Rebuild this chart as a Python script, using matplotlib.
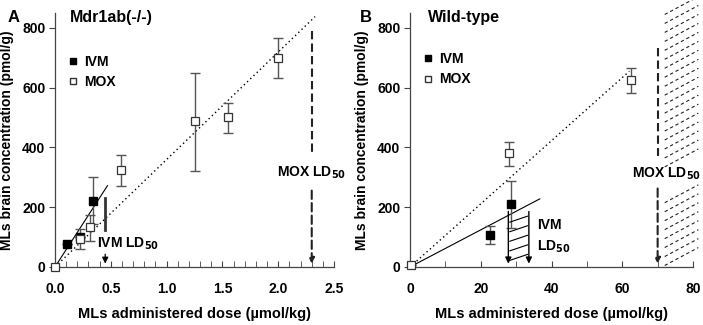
import matplotlib

matplotlib.use("Agg")
import matplotlib.pyplot as plt
import numpy as np
from matplotlib.lines import Line2D
from matplotlib.ticker import MultipleLocator, FormatStrFormatter

plt.rcParams["font.family"] = ["Liberation Sans", "DejaVu Sans"]
plt.rcParams["font.weight"] = "bold"
plt.rcParams["mathtext.default"] = "bf"

# ---- panel A: Mdr1ab(-/-) ----
a_ivm_x = [0.11, 0.22, 0.34]
a_ivm_y = [78, 99, 222]
a_ivm_err = [0, 0, 78]
a_mox_x = [0.0, 0.22, 0.31, 0.59, 1.25, 1.55, 2.0]
a_mox_y = [0, 94, 133, 325, 489, 503, 700]
a_mox_lo = [0, 35, 45, 53, 167, 53, 68]
a_mox_hi = [0, 34, 42, 50, 160, 47, 66]
a_ivm_fit = ([0, 0.47], [0, 272])
a_mox_fit = ([0, 2.33], [0, 838])
a_ivm_ld50 = 0.45
a_mox_ld50 = 2.3
a_ivm_range = (124, 230)

# ---- panel B: wild-type ----
b_ivm_x = [22.7, 28.5]
b_ivm_y = [106, 210]
b_ivm_err = [30, 78]
b_mox_x = [0.2, 28.0, 62.5]
b_mox_y = [6, 382, 625]
b_mox_lo = [0, 43, 42]
b_mox_hi = [0, 36, 40]
b_ivm_fit = ([0, 36.7], [0, 228])
b_mox_fit = ([0, 62.0], [0, 655])
b_ivm_ld50 = (27.8, 33.6)
b_mox_ld50 = 70

ERR = "#555555"
SPINE = "#444444"
FS = 10

fig = plt.figure(figsize=(7.03, 3.25), dpi=100)
axA = fig.add_axes([0.0782, 0.1785, 0.397, 0.7815])
axB = fig.add_axes([0.5832, 0.1785, 0.4026, 0.7815])

for ax in (axA, axB):
    for s in ("top", "right"):
        ax.spines[s].set_visible(False)
    for s in ("left", "bottom"):
        ax.spines[s].set_color(SPINE)
        ax.spines[s].set_linewidth(0.9)
    ax.set_ylim(0, 850)
    ax.yaxis.set_major_locator(MultipleLocator(200))
    ax.tick_params(axis="y", direction="out", length=4, color=SPINE,
                   labelsize=FS, pad=3)
    ax.tick_params(axis="x", which="both", direction="in", length=4,
                   color=SPINE, labelsize=FS, pad=11)
    ax.set_ylabel("MLs brain concentration (pmol/g)", fontsize=FS,
                  fontweight="bold", labelpad=6)
    ax.set_xlabel("MLs administered dose (µmol/kg)", fontsize=10.5,
                  fontweight="bold", labelpad=8)

# ---------- A ----------
ax = axA
ax.set_xlim(0, 2.5)
ax.xaxis.set_major_locator(MultipleLocator(0.5))
ax.xaxis.set_minor_locator(MultipleLocator(0.1))
ax.xaxis.set_major_formatter(FormatStrFormatter("%.1f"))

ax.plot(*a_ivm_fit, color="black", lw=0.8)
ax.plot(*a_mox_fit, color="black", lw=1.0, ls=(0, (1, 2.2)))
ax.errorbar(a_mox_x, a_mox_y, yerr=[a_mox_lo, a_mox_hi], fmt="none",
            ecolor=ERR, elinewidth=1.0, capsize=3.5, capthick=1.0)
ax.errorbar(a_ivm_x, a_ivm_y, yerr=a_ivm_err, fmt="none",
            ecolor=ERR, elinewidth=1.0, capsize=3.5, capthick=1.0)
ax.plot(a_ivm_x, a_ivm_y, "s", ms=6, mfc="black", mec="black", zorder=5,
        clip_on=False)
ax.plot(a_mox_x, a_mox_y, "s", ms=6, mfc="white", mec="#333333", mew=0.9,
        zorder=6, clip_on=False)
ax.plot([a_ivm_ld50, a_ivm_ld50], a_ivm_range, color="#333333", lw=2.0)

ax.annotate("", xy=(a_ivm_ld50, 2), xytext=(a_ivm_ld50, 52),
            arrowprops=dict(arrowstyle="-|>", color="black", lw=0.9,
                            mutation_scale=9))
ax.text(0.375, 77, "IVM LD$_{50}$", fontsize=FS, ha="left", va="center")
ax.plot([a_mox_ld50, a_mox_ld50], [790, 382], color="#222222", lw=1.5,
        ls=(0, (4, 2)))
ax.annotate("", xy=(a_mox_ld50, 2), xytext=(a_mox_ld50, 265),
            arrowprops=dict(arrowstyle="-|>", color="#222222", lw=1.5,
                            ls=(0, (4, 2)), mutation_scale=8))
ax.text(a_mox_ld50, 315, "MOX LD$_{50}$", fontsize=FS, ha="center",
        va="center")

# ---------- B ----------
ax = axB
ax.set_xlim(0, 80)
ax.xaxis.set_major_locator(MultipleLocator(20))
ax.xaxis.set_minor_locator(MultipleLocator(10))

ax.plot(*b_ivm_fit, color="black", lw=0.8)
ax.plot(*b_mox_fit, color="black", lw=1.0, ls=(0, (1, 2.2)))
ax.errorbar(b_mox_x, b_mox_y, yerr=[b_mox_lo, b_mox_hi], fmt="none",
            ecolor=ERR, elinewidth=1.0, capsize=3.5, capthick=1.0)
ax.errorbar(b_ivm_x, b_ivm_y, yerr=b_ivm_err, fmt="none",
            ecolor=ERR, elinewidth=1.0, capsize=3.5, capthick=1.0)
ax.plot(b_ivm_x, b_ivm_y, "s", ms=6, mfc="black", mec="black", zorder=5)
ax.plot(b_mox_x, b_mox_y, "s", ms=6, mfc="white", mec="#333333", mew=0.9,
        zorder=6, clip_on=False)

# IVM LD50 range: two arrows with hatching between
x0, x1 = b_ivm_ld50
for xv in b_ivm_ld50:
    ax.annotate("", xy=(xv, 2), xytext=(xv, 195),
                arrowprops=dict(arrowstyle="-|>", color="black", lw=1.0,
                                mutation_scale=9))
for y0 in np.arange(22, 180, 32):
    ax.plot([x0 + 0.4, x1 - 0.4], [y0, y0 + 20], color="black", lw=0.8)
ax.text(35.8, 140, "IVM", fontsize=FS, ha="left", va="center")
ax.text(35.8, 68, "LD$_{50}$", fontsize=FS, ha="left", va="center")

# MOX LD50 with dashed hatching beyond it
ax.plot([b_mox_ld50, b_mox_ld50], [733, 370], color="#222222", lw=1.5,
        ls=(0, (4, 2)))
ax.annotate("", xy=(b_mox_ld50, 2), xytext=(b_mox_ld50, 272),
            arrowprops=dict(arrowstyle="-|>", color="#222222", lw=1.5,
                            ls=(0, (4, 2)), mutation_scale=8))
ax.text(72.6, 311, "MOX LD$_{50}$", fontsize=FS, ha="center", va="center")
for y0 in np.arange(5, 860, 30):
    if 250 < y0 + 35 < 360:
        continue
    ax.plot([b_mox_ld50 + 2, b_mox_ld50 + 11.5], [y0, y0 + 60],
            color="#222222", lw=0.8, ls=(0, (3, 2.5)), clip_on=False)

# legends
for ax, anchor in ((axA, (0.0, 0.885)), (axB, (0.0, 0.895))):
    handles = [
        Line2D([], [], ls="none", marker="s", ms=5, mfc="black", mec="black"),
        Line2D([], [], ls="none", marker="s", ms=5, mfc="white", mec="#333333"),
    ]
    ax.legend(handles, ["IVM", "MOX"], loc="upper left", bbox_to_anchor=anchor,
              frameon=False, handlelength=0.8, handletextpad=0.4,
              labelspacing=0.45, prop={"weight": "bold", "size": FS})

fig.text(0.011, 0.97, "A", fontsize=12, fontweight="bold", va="top")
fig.text(0.10, 0.97, "Mdr1ab(-/-)", fontsize=11.5, fontweight="bold", va="top")
fig.text(0.512, 0.97, "B", fontsize=12, fontweight="bold", va="top")
fig.text(0.609, 0.97, "Wild-type", fontsize=11.5, fontweight="bold", va="top")

fig.savefig("out.png", dpi=100)
